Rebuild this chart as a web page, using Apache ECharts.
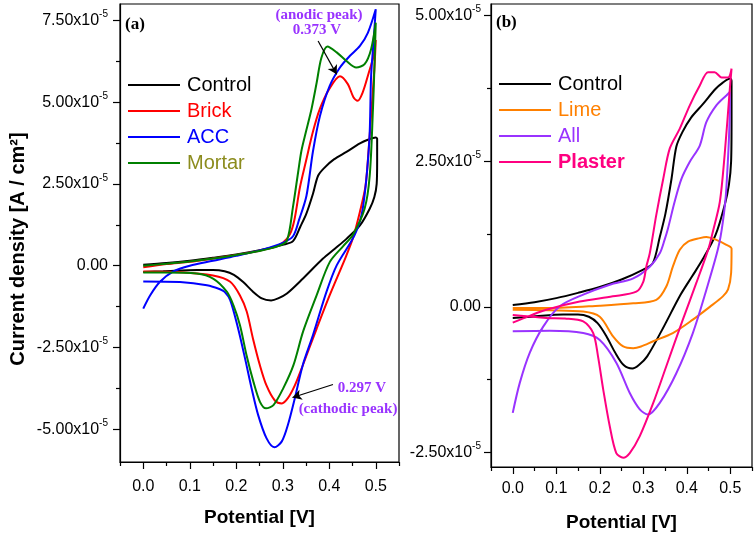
<!DOCTYPE html>
<html><head><meta charset="utf-8">
<script src="https://cdn.jsdelivr.net/npm/echarts@6/dist/echarts.min.js"></script>
<style>html,body{margin:0;padding:0;background:#fff}#c{width:756px;height:537px}</style>
</head><body><div id="c"></div>
<script>
// Potential in V, current density in units of 1e-5 A/cm^2 (forward scan then reverse scan)
const controlCV = [[0,0.03],[0.05,0.08],[0.1,0.15],[0.15,0.24],[0.2,0.34],[0.25,0.47],[0.3,0.64],[0.322,0.75],[0.338,1.2],[0.351,1.6],[0.365,2.2],[0.376,2.75],[0.39,3.0],[0.41,3.25],[0.437,3.48],[0.466,3.74],[0.483,3.85],[0.5,3.92],
  [0.503,3.88],[0.503,3.2],[0.502,2.5],[0.497,2.1],[0.487,1.74],[0.466,1.23],[0.437,0.82],[0.412,0.52],[0.386,0.21],[0.343,-0.40],[0.309,-0.85],[0.29,-1.0],[0.275,-1.06],[0.255,-1.0],[0.235,-0.78],[0.215,-0.5],[0.195,-0.28],[0.175,-0.17],[0.15,-0.13],[0.116,-0.13],[0.043,-0.17],[0,-0.19]];
const brickCV = [[0,-0.05],[0.05,0.05],[0.1,0.12],[0.15,0.22],[0.2,0.33],[0.25,0.46],[0.28,0.56],[0.30,0.7],[0.315,0.95],[0.325,1.4],[0.337,2.4],[0.35,3.2],[0.365,4.1],[0.38,4.8],[0.40,5.4],[0.423,5.79],[0.44,5.55],[0.452,5.15],[0.461,5.04],[0.472,5.3],[0.485,5.9],[0.495,6.4],[0.5,6.9],
  [0.497,6.0],[0.49,4.6],[0.485,3.6],[0.478,2.44],[0.466,1.65],[0.451,0.85],[0.435,0.25],[0.401,-0.9],[0.373,-1.92],[0.343,-3.05],[0.326,-3.66],[0.311,-4.05],[0.298,-4.21],[0.283,-4.12],[0.265,-3.66],[0.251,-3.05],[0.236,-2.23],[0.2225,-1.40],[0.208,-0.91],[0.187,-0.49],[0.15,-0.3],[0.08,-0.2],[0,-0.18]];
const accCV = [[0,-1.31],[0.015,-0.9],[0.036,-0.49],[0.064,-0.18],[0.1,0.0],[0.15,0.15],[0.2,0.3],[0.258,0.5],[0.3,0.7],[0.322,0.9],[0.335,1.4],[0.351,2.14],[0.365,3.5],[0.38,4.58],[0.401,5.5],[0.423,6.06],[0.444,6.41],[0.466,6.72],[0.483,7.12],[0.5,7.84],
  [0.495,6.8],[0.49,5.8],[0.486,3.78],[0.472,1.74],[0.455,0.95],[0.416,0.01],[0.394,-0.8],[0.365,-2.12],[0.343,-3.04],[0.326,-4.05],[0.311,-4.87],[0.298,-5.37],[0.282,-5.55],[0.265,-5.27],[0.247,-4.56],[0.233,-3.75],[0.219,-2.84],[0.204,-1.92],[0.187,-1.05],[0.175,-0.8],[0.165,-0.72],[0.137,-0.6],[0.079,-0.5],[0,-0.48]];
const mortarCV = [[0,0.0],[0.05,0.06],[0.1,0.13],[0.15,0.22],[0.2,0.33],[0.25,0.45],[0.29,0.6],[0.309,0.77],[0.322,1.8],[0.333,2.85],[0.34,3.5],[0.35,4.1],[0.362,4.8],[0.373,5.6],[0.383,6.35],[0.396,6.7],[0.416,6.52],[0.437,6.26],[0.458,6.06],[0.476,6.16],[0.49,6.62],[0.5,7.43],
  [0.497,6.0],[0.494,4.79],[0.487,2.75],[0.476,1.74],[0.451,0.95],[0.43,0.6],[0.401,0.11],[0.373,-0.9],[0.344,-2.0],[0.323,-3.04],[0.301,-3.75],[0.28,-4.26],[0.264,-4.36],[0.251,-4.16],[0.237,-3.55],[0.222,-2.73],[0.208,-1.82],[0.194,-1.21],[0.18,-0.8],[0.151,-0.4],[0.115,-0.24],[0.044,-0.21],[0,-0.21]];
const limeCV = [[0,-0.02],[0.085,-0.02],[0.2,0.02],[0.277,0.06],[0.33,0.12],[0.353,0.35],[0.368,0.69],[0.384,0.98],[0.403,1.12],[0.43,1.18],[0.445,1.2],[0.468,1.15],[0.49,1.07],[0.503,1.0],
  [0.502,0.58],[0.495,0.3],[0.483,0.18],[0.453,0.0],[0.414,-0.22],[0.368,-0.45],[0.323,-0.59],[0.295,-0.68],[0.277,-0.71],[0.254,-0.68],[0.231,-0.51],[0.2,-0.17],[0.162,-0.08],[0.085,-0.06],[0,-0.05]];
const allCV = [[0,-1.82],[0.016,-1.31],[0.039,-0.79],[0.07,-0.34],[0.108,0.01],[0.162,0.21],[0.223,0.38],[0.277,0.49],[0.315,0.69],[0.338,0.92],[0.349,1.15],[0.357,1.35],[0.372,1.8],[0.388,2.2],[0.407,2.49],[0.43,2.77],[0.445,3.17],[0.468,3.46],[0.491,3.63],[0.499,3.69],
  [0.499,3.46],[0.491,2.03],[0.483,1.46],[0.472,1.0],[0.445,0.29],[0.414,-0.45],[0.376,-1.14],[0.338,-1.65],[0.311,-1.85],[0.292,-1.76],[0.269,-1.48],[0.238,-0.96],[0.2,-0.57],[0.162,-0.45],[0.085,-0.41],[0,-0.42]];
const plasterCV = [[0,-0.27],[0.04,-0.15],[0.077,-0.05],[0.154,0.09],[0.23,0.18],[0.284,0.26],[0.3,0.43],[0.307,0.69],[0.315,0.92],[0.33,1.58],[0.346,2.2],[0.361,2.72],[0.384,3.06],[0.407,3.46],[0.43,3.8],[0.449,4.03],[0.464,4.03],[0.48,3.94],[0.495,3.94],[0.503,4.09],
  [0.499,3.74],[0.487,2.6],[0.476,1.8],[0.46,1.29],[0.45,1.0],[0.422,0.41],[0.391,-0.22],[0.353,-1.02],[0.323,-1.65],[0.292,-2.22],[0.269,-2.51],[0.254,-2.59],[0.238,-2.51],[0.223,-2.05],[0.208,-1.42],[0.196,-0.85],[0.185,-0.45],[0.162,-0.25],[0.12,-0.2],[0.077,-0.19],[0,-0.14]];

const seriesNamesA = ['Control','Brick','ACC','Mortar'];
const seriesNamesB = ['Control','Lime','All','Plaster'];
const xMajorTicks = [0,0.1,0.2,0.3,0.4,0.5];
const xMinorTicks = [-0.05,0.05,0.15,0.25,0.35,0.45,0.55];
const yMajorTicksA = [-5,-2.5,0,2.5,5,7.5];
const yMinorTicksA = [-3.75,-1.25,1.25,3.75,6.25];
const yMajorTicksB = [-2.5,0,2.5,5];
const yMinorTicksB = [-1.25,1.25,3.75];
const anodicArrow = [[0.376,6.87],[0.416,5.85]];
const cathodicArrow = [[0.408,-3.63],[0.321,-4.03]];

const F = '"Liberation Sans", Arial, sans-serif';
const S = '"Liberation Serif", "Times New Roman", serif';
const col = {Control:'#000000', Brick:'#ff0000', ACC:'#0000ff', Mortar:'#008000', Lime:'#ff8000', All:'#9933ff', Plaster:'#ff0080'};
const textCol = {Control:'#000000', Brick:'#ff0000', ACC:'#0000ff', Mortar:'#8c8c1e', Lime:'#ff8000', All:'#9933ff', Plaster:'#ff0080'};

function yLabel(v){ if (Math.abs(v) < 1e-9) return '{n|0.00}'; return '{n|' + v.toFixed(2) + 'x10}{s|-5}'; }
const yRich = {n:{fontSize:16, fontFamily:F, color:'#000', lineHeight:22}, s:{fontSize:10, fontFamily:F, color:'#000', verticalAlign:'top', lineHeight:10}};

function xAxes(grid, gap, margin){
  return [
    {type:'value', gridIndex:grid, min:-0.05, max:0.55, position:'bottom',
     name:'Potential [V]', nameLocation:'middle', nameGap:gap,
     nameTextStyle:{fontFamily:F, fontWeight:'bold', fontSize:19, color:'#000'},
     axisLine:{onZero:false, lineStyle:{color:'#000', width:1.2}},
     axisTick:{customValues:xMajorTicks, length:7, lineStyle:{color:'#000', width:1.2}},
     axisLabel:{customValues:xMajorTicks, formatter:v=>v.toFixed(1), fontFamily:F, fontSize:16, color:'#000', margin:margin},
     splitLine:{show:false}},
    {type:'value', gridIndex:grid, min:-0.05, max:0.55, position:'bottom',
     axisLine:{show:false, onZero:false}, axisLabel:{show:false}, splitLine:{show:false},
     axisTick:{customValues:xMinorTicks, length:4, lineStyle:{color:'#000', width:1.2}}}
  ];
}
function yAxes(grid, min, max, major, minor, margin){
  return [
    {type:'value', gridIndex:grid, min:min, max:max, position:'left',
     axisLine:{onZero:false, lineStyle:{color:'#000', width:1.2}},
     axisTick:{customValues:major, length:7, lineStyle:{color:'#000', width:1.2}},
     axisLabel:{customValues:major, formatter:yLabel, rich:yRich, margin:margin},
     splitLine:{show:false}},
    {type:'value', gridIndex:grid, min:min, max:max, position:'left',
     axisLine:{show:false, onZero:false}, axisLabel:{show:false}, splitLine:{show:false},
     axisTick:{customValues:minor, length:4, lineStyle:{color:'#000', width:1.2}}}
  ];
}
function mkSeries(name, data, xi, yi, extra){
  return Object.assign({type:'line', name:name, data:data, xAxisIndex:xi, yAxisIndex:yi,
    showSymbol:false, smooth:0.3, lineStyle:{width:2, color:col[name]}, itemStyle:{color:col[name]}, silent:true, animation:false}, extra||{});
}
function arrowMark(pts){
  return {silent:true, symbol:['none','arrow'], symbolSize:[8,9], label:{show:false},
    lineStyle:{color:'#000', width:1.2, type:'solid'},
    data:[[{coord:pts[0]},{coord:pts[1]}]]};
}
function legendItems(names){
  return names.map(n=>({name:n, textStyle:{color:textCol[n], fontWeight: n==='Plaster'?'bold':'normal'}}));
}

const option = {
  animation:false,
  backgroundColor:'#fff',
  grid:[
    {left:120, top:4, width:279, height:458, show:true, borderColor:'#000', borderWidth:1.2, containLabel:false},
    {left:491, top:4, width:261, height:465, show:true, borderColor:'#000', borderWidth:1.2, containLabel:false}
  ],
  xAxis:[...xAxes(0, 46, 17), ...xAxes(1, 46, 14)],
  yAxis:[...yAxes(0, -6, 8, yMajorTicksA, yMinorTicksA, 12), ...yAxes(1, -2.75, 5.2, yMajorTicksB, yMinorTicksB, 10)],
  legend:[
    {left:123, top:70, orient:'vertical', icon:'rect', itemWidth:52, itemHeight:2, itemGap:6,
     textStyle:{fontSize:20, fontFamily:F, lineHeight:20, padding:[0,0,0,2]}, selectedMode:false, data:legendItems(seriesNamesA)},
    {left:494, top:69, orient:'vertical', icon:'rect', itemWidth:52, itemHeight:2, itemGap:6,
     textStyle:{fontSize:20, fontFamily:F, lineHeight:20, padding:[0,0,0,2]}, selectedMode:false, data:legendItems(seriesNamesB)}
  ],
  series:[
    mkSeries('Control', controlCV, 0, 0),
    mkSeries('Brick', brickCV, 0, 0, {markLine:arrowMark(cathodicArrow)}),
    mkSeries('ACC', accCV, 0, 0),
    mkSeries('Mortar', mortarCV, 0, 0, {markLine:arrowMark(anodicArrow)}),
    mkSeries('Control', controlCV, 2, 2),
    mkSeries('Lime', limeCV, 2, 2),
    mkSeries('All', allCV, 2, 2),
    mkSeries('Plaster', plasterCV, 2, 2)
  ],
  graphic:[
    {type:'text', x:18, y:249, rotation:Math.PI/2, style:{text:'Current density [A / cm²]', font:'bold 20px '+F, fill:'#000', align:'center', verticalAlign:'middle'}},
    {type:'text', x:125, y:25, style:{text:'(a)', font:'bold 17px '+S, fill:'#000', align:'left', verticalAlign:'middle'}},
    {type:'text', x:496, y:23, style:{text:'(b)', font:'bold 17px '+S, fill:'#000', align:'left', verticalAlign:'middle'}},
    {type:'text', x:319, y:15, style:{text:'(anodic peak)', font:'bold 15px '+S, fill:'#9933ff', align:'center', verticalAlign:'middle'}},
    {type:'text', x:317, y:30, style:{text:'0.373 V', font:'bold 15px '+S, fill:'#9933ff', align:'center', verticalAlign:'middle'}},
    {type:'text', x:362, y:388, style:{text:'0.297 V', font:'bold 15px '+S, fill:'#9933ff', align:'center', verticalAlign:'middle'}},
    {type:'text', x:348, y:409, style:{text:'(cathodic peak)', font:'bold 15px '+S, fill:'#9933ff', align:'center', verticalAlign:'middle'}}
  ]
};
const chart = echarts.init(document.getElementById('c'), null, {renderer:'canvas'});
chart.setOption(option);
</script></body></html>
